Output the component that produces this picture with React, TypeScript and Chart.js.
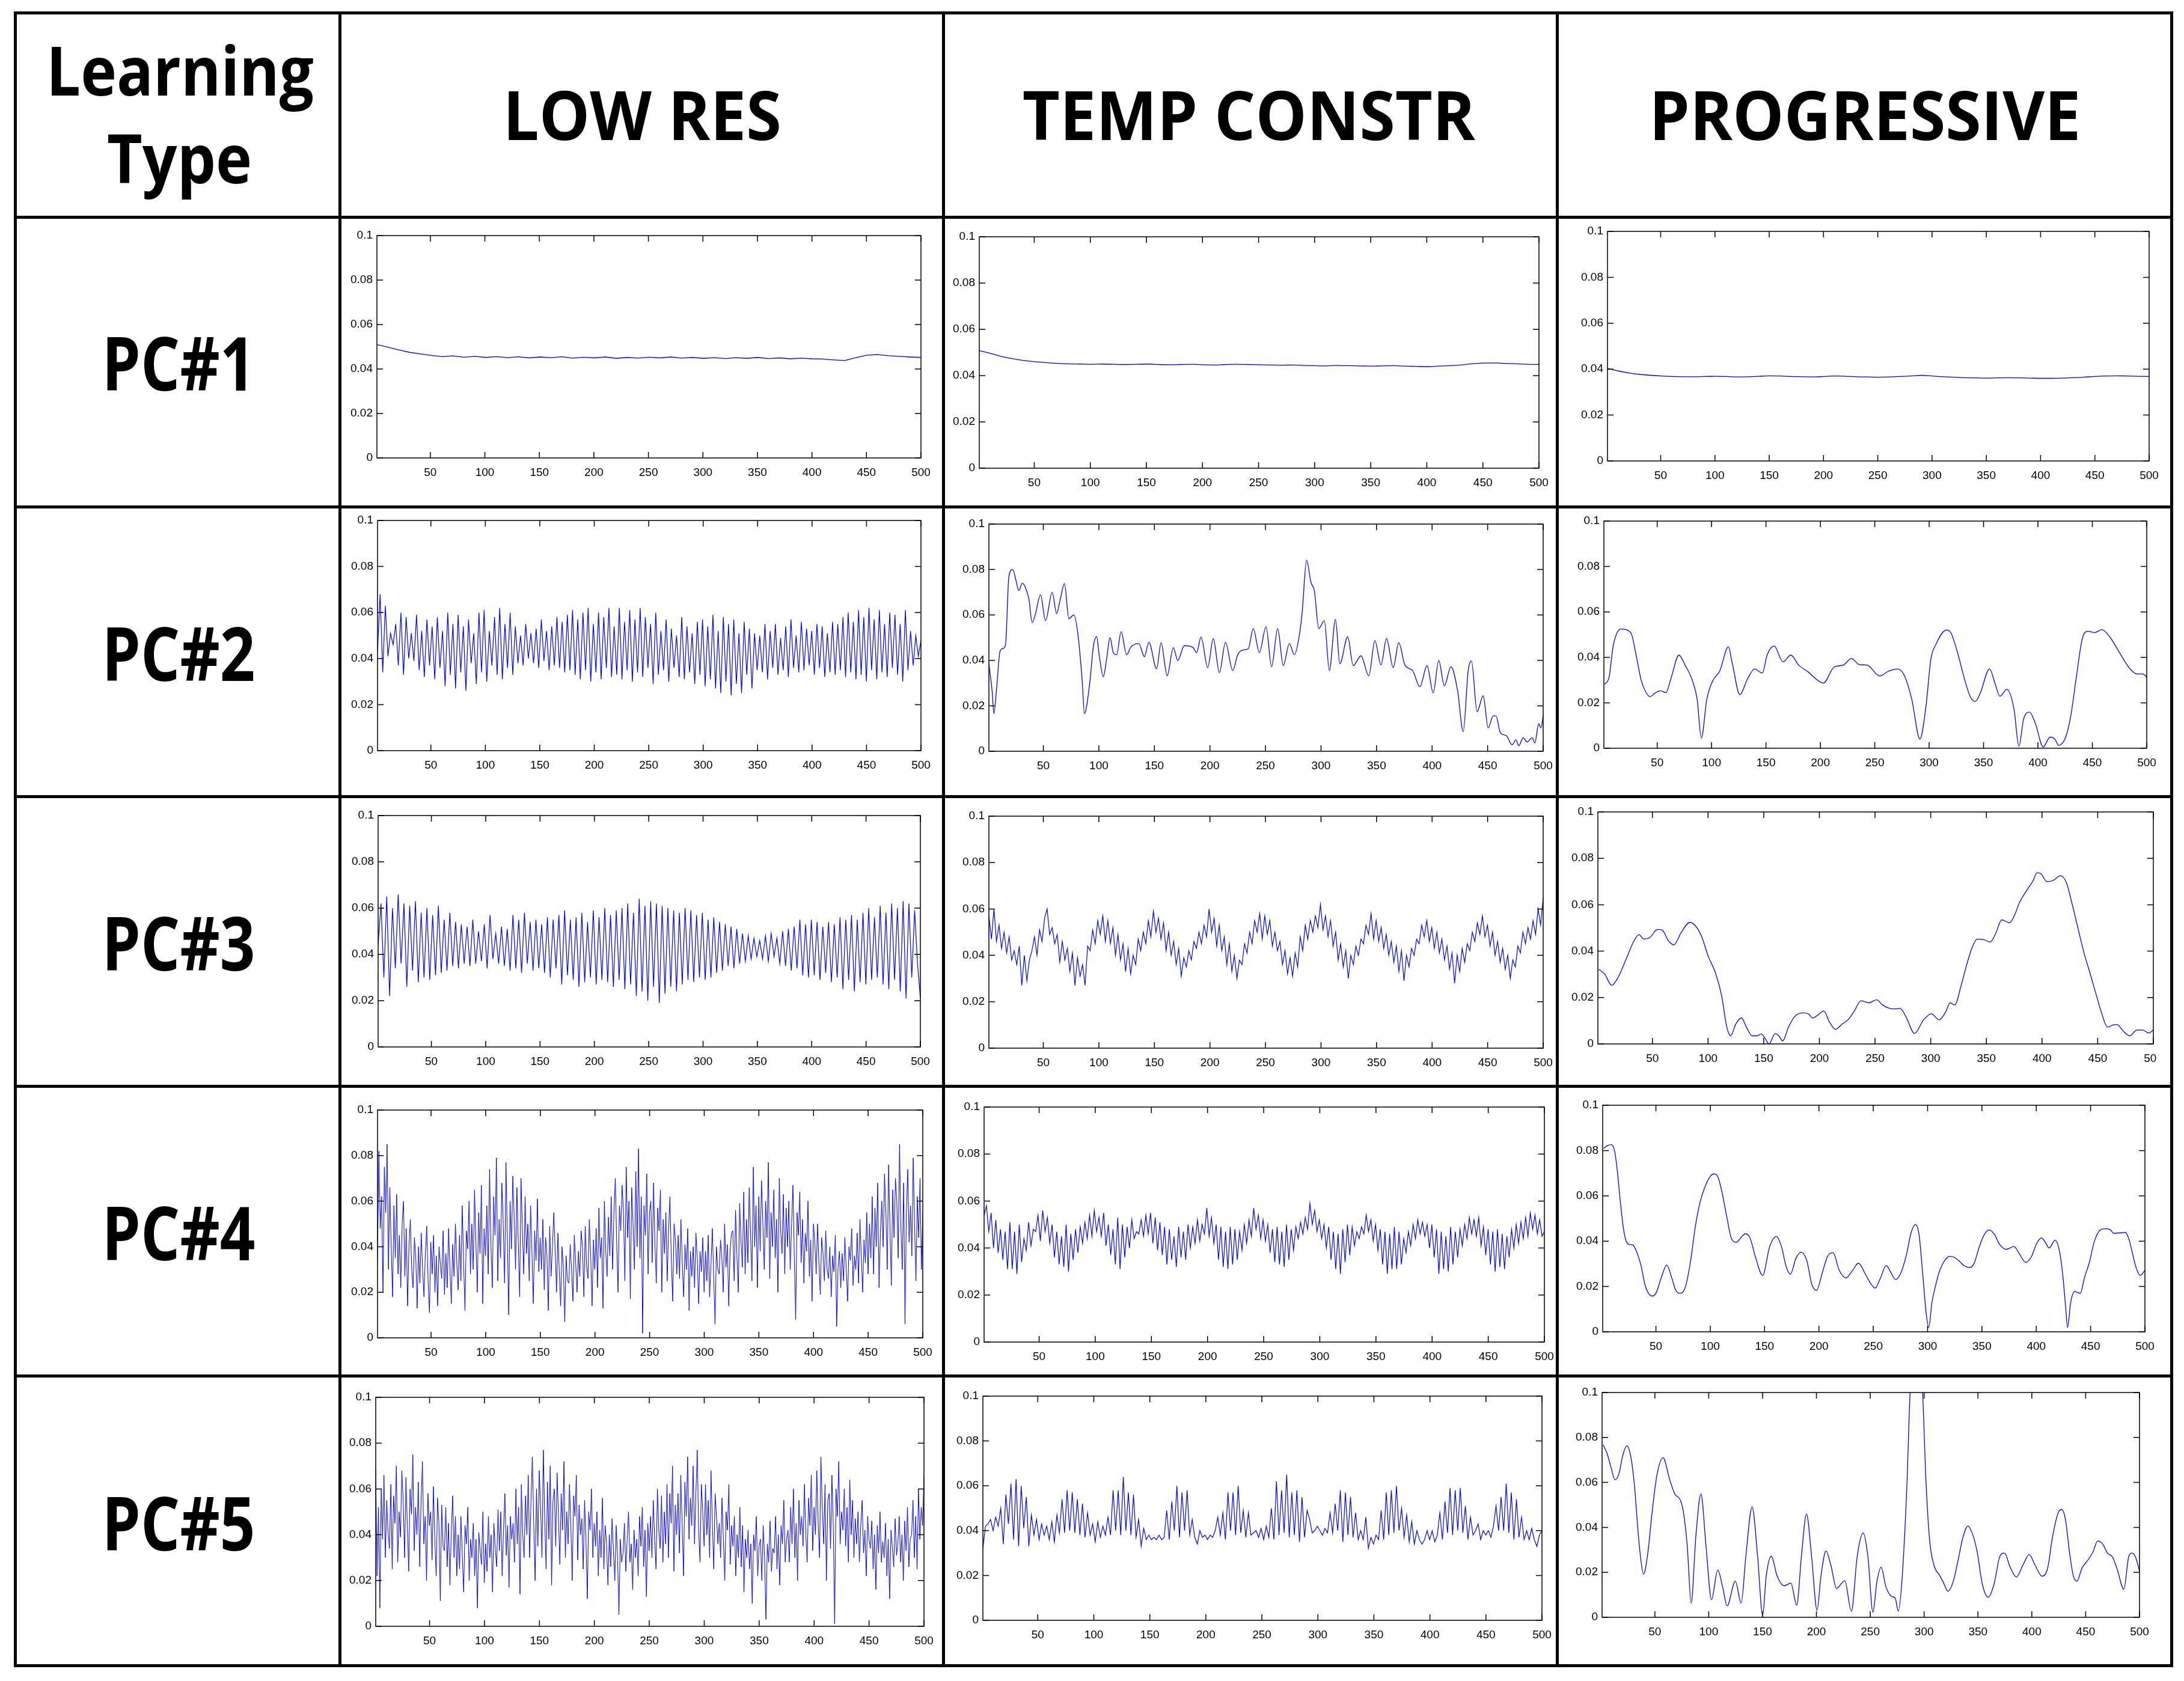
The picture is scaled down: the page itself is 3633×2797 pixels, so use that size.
import React, { useEffect, useRef } from 'react';
import { Chart, registerables } from 'chart.js';

Chart.register(...registerables);

// ---------------- axis / label data ----------------
const X_TICKS = [50, 100, 150, 200, 250, 300, 350, 400, 450, 500];
const Y_TICKS = [0, 0.02, 0.04, 0.06, 0.08, 0.1];
const Y_TICK_LABELS = ['0', '0.02', '0.04', '0.06', '0.08', '0.1'];
const X_MIN = 1;
const X_MAX = 500;
const CORNER_TITLE = ['Learning', 'Type'];
const COLUMN_TITLES = ['LOW RES', 'TEMP CONSTR', 'PROGRESSIVE'];
const ROW_TITLES = ['PC#1', 'PC#2', 'PC#3', 'PC#4', 'PC#5'];

// ---------------- series values (in units of 0.001) ----------------
// evenly sampled series (sample i sits at x = 1 + i*499/(n-1))
const lowResPc1 = [51,49.8,48.6,47.5,46.8,46.1,45.6,45.9,45.3,45.7,45.2,45.6,45.1,45.5,45,45.4,45.1,45.5,44.9,45.3,45,45.4,44.8,45.2,44.9,45.3,45,45.4,44.9,45.2,44.8,45.1,44.7,45.1,44.8,45.2,44.7,45,44.6,44.9,44.6,44.5,44.1,43.8,45.1,46.2,46.5,46,45.7,45.4,45.2];
const tempPc1 = [50.8,49.6,48.3,47.3,46.5,46,45.6,45.3,45.1,45,44.9,45,44.9,44.8,44.9,45,44.8,44.7,44.8,44.9,44.7,44.6,44.8,44.9,44.8,44.7,44.6,44.5,44.6,44.4,44.3,44.2,44.4,44.3,44.2,44.1,44.2,44.3,44.1,44,43.9,44.1,44.3,44.6,45.1,45.4,45.5,45.3,45.1,44.9,44.8];
const progPc1 = [40.3,39.2,38.3,37.7,37.3,37,36.8,36.7,36.7,36.8,36.9,36.8,36.6,36.7,36.9,37.1,37,36.8,36.7,36.6,36.8,37,36.9,36.7,36.6,36.5,36.6,36.8,37,37.3,37,36.7,36.5,36.3,36.2,36.1,36.2,36.3,36.2,36.1,36,36,36.1,36.3,36.5,36.8,37,37.1,37,36.9,36.8];

const lowResPc2 = [
43,68,34,63,41,51,46,55,37,60, 33,58,40,51,39,59,35,52,32,57,
37,54,31,58,36,52,28,60,33,55, 27,59,34,54,26,57,38,51,29,60,
34,61,30,52,37,58,33,62,31,55, 36,60,33,54,38,50,37,55,40,51,
38,53,36,57,39,52,35,54,37,58, 36,56,34,59,35,61,33,57,31,60,
35,62,30,55,34,60,31,58,36,62, 32,54,33,62,31,56,35,61,30,57,
34,62,32,58,36,55,29,60,33,52, 35,57,30,53,36,50,32,58,31,54,
34,51,29,56,33,57,28,54,31,59, 27,52,25,58,30,55,24,57,29,51,
25,56,33,53,27,51,35,50,34,55, 31,52,36,55,33,49,35,54,32,57,
36,50,34,56,35,53,37,52,33,55, 36,54,32,51,34,56,33,55,35,58,
32,60,34,56,31,61,33,58,30,62, 35,57,31,61,34,55,32,60,36,59,
33,55,30,61,35,52,37,50,41,48];

const lowResPc3 = [
44,62,30,65,22,60,34,66,36,62, 26,61,33,63,28,58,30,60,29,57,
31,61,32,55,33,58,35,54,34,53, 36,52,35,55,36,50,37,53,34,57,
38,49,36,52,35,51,33,57,34,55, 32,58,36,54,33,55,34,53,32,56,
30,55,34,57,27,59,31,55,29,56, 26,58,28,54,30,59,27,56,29,60,
28,57,26,59,29,60,25,62,27,58, 22,64,24,61,20,63,26,62,19,61,
23,60,26,59,24,58,27,60,29,59, 28,57,30,58,29,55,30,56,32,54,
33,53,35,52,34,51,36,49,37,48, 38,47,39,46,38,48,37,49,39,47,
36,50,35,51,33,52,34,55,31,53, 30,55,31,54,29,52,32,54,28,53,
30,56,25,55,29,57,24,55,28,58, 27,60,29,56,30,61,27,58,25,62,
29,60,24,63,21,62,30,59,36,21];

const lowResPc4 = [
35,82,48,62,20,75,55,85,30,66, 40,18,58,35,63,28,45,22,50,60,
27,48,14,40,52,30,22,44,35,13, 40,24,46,30,18,37,49,25,11,42,
28,45,20,36,14,40,32,26,47,19, 37,22,48,30,15,41,27,50,33,21,
45,25,58,33,12,47,39,60,28,50, 30,65,42,20,55,37,67,15,48,36,
58,28,74,40,22,62,45,79,25,52, 35,68,50,24,77,44,10,60,39,71,
53,30,66,42,18,70,48,28,62,37, 50,25,58,38,15,47,34,61,29,44,
30,52,21,44,36,12,49,27,40,55, 38,20,46,29,14,40,31,7,36,25,
24,41,30,16,45,33,20,38,27,47, 40,18,49,31,26,52,36,14,43,30,
48,22,57,35,44,13,60,38,27,53, 36,62,30,55,70,42,20,58,47,67,
55,25,75,44,60,17,66,50,30,73, 40,83,35,62,2,58,45,72,28,55,
60,33,68,41,24,57,47,65,20,52, 37,55,25,48,62,34,16,50,43,28,
45,26,52,33,18,41,30,48,12,38, 27,40,22,46,35,15,38,29,44,20,
38,25,45,18,32,48,27,6,40,30, 28,43,35,20,50,31,41,14,38,46,
47,25,56,36,20,59,42,31,64,28, 52,33,66,45,25,75,40,58,22,62,
38,69,50,30,60,44,77,26,55,40, 65,35,52,20,70,47,37,63,28,57,
40,60,30,50,67,36,8,55,45,64, 33,52,24,46,38,60,27,43,16,50,
42,28,50,33,19,44,37,25,47,30, 26,40,18,36,29,45,5,31,38,22,
37,25,44,30,16,40,34,48,23,36, 30,46,24,52,36,20,43,33,55,28,
50,35,62,28,57,40,68,22,46,60, 40,72,55,30,76,48,23,65,44,70,
60,35,85,48,30,68,6,55,74,42, 58,36,79,50,25,62,44,70,30,55];

const lowResPc5 = [
69,22,52,8,60,38,66,30,55,41, 34,62,25,57,45,70,28,50,39,68,
55,30,65,44,24,60,49,75,33,52, 40,63,26,55,72,36,48,20,58,44,
50,29,61,38,22,56,45,11,53,35, 33,52,26,45,18,41,57,30,48,22,
40,25,48,31,15,44,36,52,20,38, 30,45,22,38,8,41,33,27,50,19,
36,24,48,30,40,15,45,34,26,51, 33,50,22,42,58,31,44,17,48,38,
45,28,60,36,52,14,62,40,30,57, 40,66,30,55,74,45,20,60,35,68,
52,30,77,46,25,63,38,70,18,55, 60,35,67,48,27,58,42,72,30,50,
36,62,44,20,57,48,66,29,53,40, 47,25,55,38,12,50,42,60,30,45,
35,50,22,42,30,56,25,44,36,18, 40,26,47,33,20,44,30,5,38,28,
32,45,24,38,50,28,36,16,42,30, 38,22,48,35,52,26,42,13,45,33,
48,30,55,38,25,60,42,34,57,28, 50,36,62,30,58,45,70,24,53,40,
58,32,66,45,22,63,48,74,38,56, 44,70,36,58,77,42,28,62,50,35,
62,40,55,30,68,45,25,58,48,36, 45,30,56,38,20,50,42,62,27,44,
35,48,22,40,30,52,26,44,15,38, 30,42,25,36,10,40,33,48,22,35,
38,20,44,30,3,36,28,46,24,34, 32,48,25,40,18,44,36,55,28,38,
42,28,52,36,60,30,45,20,55,40, 48,35,62,40,28,56,44,66,33,52,
40,68,45,30,74,52,36,62,20,55, 58,34,66,44,1,60,48,72,36,50,
42,60,35,52,28,64,40,55,30,47, 36,50,28,44,55,32,42,22,48,38,
34,46,25,40,16,44,32,50,28,37, 30,45,22,38,12,42,34,26,47,31,
36,48,28,40,20,46,33,52,26,38, 40,55,30,48,25,60,38,52,44,66];

const tempPc3 = [
57,47,60,46,53,43,50,41,48,38, 42,36,44,27,40,29,38,42,48,40,
51,46,56,60,49,52,45,49,37,46, 38,43,33,41,27,39,31,36,27,44,
42,51,45,55,49,57,46,55,45,52, 40,49,38,45,33,43,32,40,36,47,
42,50,45,55,48,59,50,56,47,54, 42,50,40,46,36,43,31,39,35,42,
38,46,43,50,45,53,48,60,50,56, 44,53,42,48,36,45,33,40,30,38,
36,45,41,50,45,55,50,58,47,57, 49,55,44,50,42,46,36,42,32,39,
31,41,35,48,42,53,47,55,50,57, 52,62,51,57,48,55,44,50,38,45,
35,42,30,40,36,44,40,47,45,53, 49,58,47,55,46,52,43,49,40,46,
37,44,33,42,29,40,35,43,40,47, 45,53,48,55,46,52,43,50,41,47,
38,44,34,41,28,40,33,43,37,45, 42,50,46,54,49,57,48,53,44,50,
40,46,37,43,34,40,30,38,35,44, 41,50,45,52,47,55,49,60,53,65];

const tempPc4 = [
54,58,47,55,40,52,38,48,35,47, 31,51,31,47,29,50,34,44,39,51,
41,48,47,54,43,56,47,53,42,50, 36,47,33,45,32,50,30,46,35,48,
38,49,42,51,44,54,45,56,47,53, 45,55,41,50,37,48,33,53,31,50,
36,49,40,52,44,47,46,52,45,54, 46,55,42,53,39,51,37,49,33,48,
35,45,32,49,36,47,35,50,40,49, 42,52,43,50,46,57,45,53,42,50,
35,49,32,47,31,49,33,48,35,47, 39,50,42,52,45,57,48,54,44,52,
43,50,38,48,34,49,33,47,32,50, 35,48,39,49,44,51,46,53,48,59,
50,56,47,52,44,50,40,49,35,47, 31,46,29,48,34,50,37,49,41,47,
44,49,46,54,47,52,43,50,39,48, 33,47,29,46,31,49,31,47,33,44,
38,47,41,50,44,52,46,51,45,50, 40,50,36,48,29,47,31,45,30,49,
33,47,36,48,41,50,44,53,46,52, 45,53,41,49,37,48,33,47,30,48,
32,46,31,45,36,48,40,50,42,51, 44,53,45,55,48,54,46,52,45,47];

const tempPc5 = [
32,42,43,45,40,
46,42,50,34,56,43,61,36,63,33,60,41,55,33,
47,38,45,36,43,38,42,36,
44,35,47,39,54,39,58,40,57,39,54,38,52,37,48,
38,43,35,44,37,42,38,
46,38,58,40,58,38,64,40,57,38,56,37,45,33,
41,36,38,36,37,36,38,36,37,
49,36,53,40,60,37,57,40,58,38,45,
37,34,40,37,38,36,38,37,40,
46,38,48,36,57,40,57,38,60,39,49,37,48,38,
39,40,37,41,36,42,37,
50,36,62,38,58,39,65,37,57,38,58,35,55,37,49,
45,39,40,42,40,38,41,39,
48,39,52,40,58,35,57,38,55,37,48,36,
40,36,46,32,37,34,38,36,
49,36,57,38,58,39,60,40,50,37,47,35,44,34,40,
36,34,36,40,36,40,35,38,
48,36,53,39,59,38,58,40,59,39,51,36,46,38,
40,43,36,40,38,40,37,42,
51,40,55,40,61,39,57,36,54,37,46,
36,40,36,41,36,33,38,40];

// series read at explicit x positions
const tempPc2X = [1,4,5.5,8,11,14,16,19,22.5,25,28,31,33.5,37,40,42.5,47.5,52,58,62,65,69,73,77.5,81,85,87,92,95,98,100.5,104,107,110,113,116,120,125,129,136,141,145,152,156,161.5,167,171,177,185,188,192,198,203,208.5,214,220.5,225,231,234.5,239,244.5,250.5,255.5,261,266,271.5,276,280,283,287,291,294,298,303,307.5,313,317,324,329,336,343,348.5,354,359,365,370,375.5,382.5,389,395.5,401,406,411,417,423,428,432.5,435.5,440.5,446,450.5,455,457.5,461.5,467,472,475.5,478,482,485.5,490,492.5,496,498,500];
const tempPc2Y = [38.5,26,16.5,28,44,45.3,47,77,80,76,70.7,74,72.5,67,56.6,59.7,68.8,57.5,70,60.6,66.3,73.8,58.4,60,52,31,16.5,31,46,50.4,41.6,32.8,40.7,50,43.4,42.5,52.6,42.5,46,47.4,41.6,48,36.3,47.8,33.2,45.6,40,46.5,45.6,43.4,50.3,36.8,49.6,34.6,48,35.5,42.5,44.7,45.1,54,43.4,54.8,37.2,54,37.7,47.4,42.5,49.6,61,84.1,74.2,70.7,54,57.5,35.5,58,38.5,50.4,37.7,42,33.2,48.7,38,49.6,36.8,47.8,38,35.5,28.4,37.7,25.7,40,28.8,37.2,26.6,8.6,35.5,39.7,17.4,24.4,10.3,15.6,15.6,8.1,6.8,2.8,5,2.4,5.9,4.1,5.9,3.7,12.1,10.3,15.6];

const progPc2X = [1.8,5.8,9.4,13,16.6,23,26.6,31,35,39,43.5,48,53,58,63,70,76,81,86.7,90.6,95.6,101,107.5,115.4,119,126,133,139.5,146.7,151,157.5,165.7,172.9,180,189,196,202.8,212.5,221,228.7,235.8,243,254.5,263,271,277,284,291.5,297,301.6,306,316,320,325.7,333,338,342.6,347,355.5,361,365,371.4,378,382.5,386.8,392.2,397.6,404.8,411.2,415.6,419,425.5,430,435.3,440.7,446,452,458.7,466,473,479.6,485.7,491,496.4,500];
const progPc2Y = [28.2,31.3,44.6,50.7,52.5,51.9,49.9,40.2,30.5,25.2,22.7,24.3,25.3,24.5,31.3,41,36.2,31.5,21.6,4.4,21.6,29.6,34,44.6,37.5,23.6,30.5,34.9,33.1,41,45,38,41,36.6,33.5,30.5,28.7,35.7,36.6,39.5,36.8,36.6,31.8,34,34.9,32.2,21.6,4,18.1,39.3,45.5,52.1,50.8,42.8,29.6,22.5,20.6,24.3,34.9,27.8,22.9,25.9,17.2,0.9,12.8,15.9,11,0.6,4.9,4,1.3,4.9,13.7,31.3,48.1,51.5,50.9,52.2,49,43.7,38.4,34.4,32.7,32.7,31.3];

const progPc3X = [1.8,7,13.4,19.4,26.5,33.5,38,42,47.5,54.6,59,64.4,69.3,75.7,83.7,88.7,94.3,100.3,106.6,112,116.8,120.3,124.9,130,134.4,139.6,144,147.7,151,154.7,160.4,163.5,167,172.3,177.6,184.6,190,194,198.7,204,209,214.5,220.5,225.7,231.4,237.4,244.4,251.4,256.7,262,267,272.5,277.8,285.5,293.6,300.6,307.6,313,317.5,321.7,327,332.3,337.5,341.7,348,353.3,357.9,363.9,370.9,375.5,379.7,386.7,392,395.5,399,404.3,409.6,416.6,421.9,427.2,432.4,437.7,443,448.2,453.5,458.8,464,467.5,472.8,478.8,485.2,490.4,495.7,500];
const progPc3Y = [32.2,30.2,25.3,28.9,36.7,44.5,47.1,45.3,45.8,49.4,49,44.5,42.7,47.9,52.4,50.9,46.2,37.6,30.7,21.2,7.3,3.5,8.6,11.2,7.3,3.5,3.5,4.3,2.6,0,4.5,3.5,1.3,7.3,11.7,13.4,13,11.2,12.5,14.2,9.5,6.3,8.6,10.4,14.2,18.6,17.7,19,16.8,15.5,15.1,15.3,11.7,4.5,10.4,13,10.4,13.4,17.7,16.8,24.6,34.1,41.9,45.2,44.9,43.9,47.1,53.5,52.2,55.7,60.9,66.5,70.4,73.8,73.4,70,70.4,72.5,69.5,60,49.7,39.3,30.7,22,13.4,7.3,8.2,8.4,5.6,3.5,6,6,4.7,6];

const progPc4X = [2,5.4,9,11.9,14.4,17.3,19.8,22.3,25.2,28.8,32.4,36,40.3,43.9,47.1,50.4,54.7,60,64.7,68.3,72.7,77.3,81.7,86.3,90.6,95.3,100,103.2,107.2,110.8,115.1,119.4,124.1,128.4,132.4,136.7,141.4,148.2,154.7,160.8,165.5,169.8,173.7,178.8,183.5,188.8,193.5,197.8,203.2,207.9,213,218.7,224.8,231,236.3,242.8,248.2,251.8,256.5,261.9,266.2,270.5,275.2,280.6,284.9,288.8,292.1,295.7,298.6,301.1,304,307.6,311.2,315.8,320.1,324.5,330.2,334.5,338.8,342.8,347.1,351.8,356.8,361.5,366.2,372.3,379.5,384.2,390.3,395.7,400,404.7,408.3,411.9,417.3,421.6,424.5,427,428.8,431.7,435.3,438.1,440.6,444.2,448.9,453.2,458.6,464,468.3,471.2,478.4,482,485.6,489.2,492.1,495.7,500];
const progPc4Y = [81,82.2,82.6,80,71.3,57.2,46.6,40.4,38.6,38.3,35.1,29.8,20.1,16.5,15.8,17.4,23.6,29.5,23.6,18.3,17,20.1,30.7,46.6,57.2,64.2,68.6,69.7,68.2,61.6,51,41.3,39.5,41.7,43.3,41.3,33.3,24.9,37.7,42.1,37.7,28.9,25.4,32.4,35.2,31.5,20.9,18.3,26.2,33.3,34.9,27.1,23.8,27.1,30.3,25.4,20.9,19.3,23.6,29.3,26.2,23.1,25.8,34.2,43.9,47.3,43,24.5,8.6,1.9,13,20.9,27.1,31.5,33.3,32.9,30.7,28.9,28.4,30.2,36.8,42.6,45,43,38.6,36.4,37.7,34.6,30.7,33.3,38.6,41.5,39.5,37,40.4,35.1,24.5,11.2,1.9,13,17.8,17.4,17,23.6,30.7,39.5,44.8,45.5,45,43.5,43.7,43.9,40.4,33.3,28,24.9,27.1];

const progPc5X = [2,5.7,9.4,13,16.6,20.2,23.9,27.5,31.1,34,36.6,39.5,43.1,47.5,51.8,57.6,63.8,68.5,73.6,76.5,80.1,83.7,88.1,92.8,97.5,102.6,108.4,112.8,117.1,124.7,130.2,134.5,140.3,145.4,150.1,153.4,158.1,163.6,170.1,176.3,181.7,186.1,190.8,195.5,200.6,204.2,208.9,213.6,218.7,226.3,232.5,237.9,243.4,247.8,252.5,256.1,260.1,264.4,269.5,273.2,276,279.7,284,287,292.5,298.6,301.5,305.1,309.4,314.2,317.8,322.1,326.8,331.2,335.9,340.6,345,349.3,354.1,359.5,364.9,370.4,374.7,379.5,385.6,392.2,397.6,403,409.6,414.7,419.4,424.8,427.7,431.3,435,438.6,441.9,446.6,452,456.7,461.1,465.8,470.2,474.9,479.3,485.4,490.1,493.1,496.7,500];
const progPc5Y = [76.8,72.8,66.5,61.2,63.8,71.9,76.3,71.9,58.5,40.6,27.2,19.2,27.2,46.9,62.9,71,61.2,54.9,52.2,46.9,31.7,6.3,36.2,54.9,31.7,7.8,21,13.8,5.1,16.1,6.3,27.2,49.1,27.2,0.9,18.3,27.2,18.3,14,15.2,5.4,27.2,46,27.2,3.1,18.3,29.5,22.8,12.9,16.3,2.7,27.2,37.5,27.2,2.2,15.6,22.3,13.8,9.4,8.5,2.7,18.3,58.5,100,125,100,63,34.4,22.8,18.8,15.6,11.6,15.6,24.6,35.3,40.6,37,29,14.7,8.9,14.7,27.2,28.6,22.8,17.9,23.7,27.9,23.2,18.3,21.9,36.2,46.9,48,43.3,29,18.3,16.1,21.9,25.4,29,33.9,32.6,28.6,26.8,21.4,12.5,27.2,28.6,26.3,20.5];

// ---------------- layout (page pixels) ----------------
const PAGE_W = 3633;
const PAGE_H = 2797;
const COL_LINES = [25, 565, 1569, 2590, 3612];
const ROW_LINES = [21, 361, 843, 1325, 1807, 2289, 2771];
const GRID_LW = 5;
const AX_W = 80;
const AX_H = 45;
const PAD_T = 20;
const PAD_R = 30;
const TICK_LEN = 10;
const LINE_BLUE = '#0000ff';
const HEADER_FONT = "'Open Sans', 'DejaVu Sans', sans-serif";
const TICK_FONT = "'Liberation Sans', Arial, sans-serif";

type PanelDef = { ys: number[]; xs?: number[]; smooth: boolean; width: number; plot: number[]; clipRight?: number };

const PANELS: PanelDef[] = [
  { ys: lowResPc1, smooth: false, width: 1.3, plot: [627, 392, 1532, 762] },
  { ys: tempPc1, smooth: true, width: 1.3, plot: [1629, 394, 2560, 779] },
  { ys: progPc1, smooth: true, width: 1.3, plot: [2674, 385, 3575, 767] },
  { ys: lowResPc2, smooth: false, width: 1.2, plot: [628, 866, 1532, 1249] },
  { ys: tempPc2Y, xs: tempPc2X, smooth: true, width: 1.3, plot: [1645, 872, 2567, 1250] },
  { ys: progPc2Y, xs: progPc2X, smooth: true, width: 1.3, plot: [2668, 867, 3571, 1245] },
  { ys: lowResPc3, smooth: false, width: 1.2, plot: [629, 1357, 1531, 1742] },
  { ys: tempPc3, smooth: false, width: 1.2, plot: [1645, 1358, 2567, 1744] },
  { ys: progPc3Y, xs: progPc3X, smooth: true, width: 1.3, plot: [2658, 1351, 3582, 1737], clipRight: 3588 },
  { ys: lowResPc4, smooth: false, width: 1, plot: [628, 1847, 1535, 2226] },
  { ys: tempPc4, smooth: false, width: 1.2, plot: [1637, 1842, 2569, 2233] },
  { ys: progPc4Y, xs: progPc4X, smooth: true, width: 1.3, plot: [2666, 1839, 3568, 2216] },
  { ys: lowResPc5, smooth: false, width: 1, plot: [625, 2325, 1537, 2706] },
  { ys: tempPc5, smooth: false, width: 1.2, plot: [1635, 2323, 2565, 2696] },
  { ys: progPc5Y, xs: progPc5X, smooth: true, width: 1.3, plot: [2665, 2317, 3559, 2691] },
];

function toPoints(ys: number[], xs?: number[]) {
  const n = ys.length;
  return ys.map((v, i) => ({
    x: xs ? xs[i] : X_MIN + (i * (X_MAX - X_MIN)) / (n - 1),
    y: v * 0.001,
  }));
}

const framePlugin = {
  id: 'matlabFrame',
  afterDraw(chart: any) {
    const { ctx, chartArea: a, scales } = chart;
    ctx.save();
    ctx.strokeStyle = '#000';
    ctx.lineWidth = 1.5;
    ctx.strokeRect(a.left, a.top, a.right - a.left, a.bottom - a.top);
    ctx.beginPath();
    for (const v of X_TICKS) {
      const px = scales.x.getPixelForValue(v);
      ctx.moveTo(px, a.bottom);
      ctx.lineTo(px, a.bottom - TICK_LEN);
      ctx.moveTo(px, a.top);
      ctx.lineTo(px, a.top + TICK_LEN);
    }
    for (const v of Y_TICKS) {
      const py = scales.y.getPixelForValue(v);
      ctx.moveTo(a.left, py);
      ctx.lineTo(a.left + TICK_LEN, py);
      ctx.moveTo(a.right, py);
      ctx.lineTo(a.right - TICK_LEN, py);
    }
    ctx.stroke();
    ctx.restore();
  },
};

function Panel({ def }: { def: PanelDef }) {
  const ref = useRef<HTMLCanvasElement>(null);
  const [l, t, r, b] = def.plot;
  const w = r - l + AX_W + PAD_R;
  const h = b - t + PAD_T + AX_H;
  useEffect(() => {
    const chart = new Chart(ref.current as HTMLCanvasElement, {
      type: 'line',
      data: {
        datasets: [
          {
            data: toPoints(def.ys, def.xs),
            borderColor: LINE_BLUE,
            borderWidth: def.width,
            pointRadius: 0,
            fill: false,
            tension: def.smooth ? 0.4 : 0,
            cubicInterpolationMode: def.smooth ? 'monotone' : 'default',
          },
        ],
      },
      options: {
        animation: false,
        responsive: false,
        maintainAspectRatio: false,
        devicePixelRatio: 1,
        events: [],
        layout: { padding: { left: 0, top: PAD_T, right: PAD_R, bottom: 0 } },
        plugins: { legend: { display: false }, tooltip: { enabled: false }, title: { display: false } },
        scales: {
          x: {
            type: 'linear',
            min: X_MIN,
            max: X_MAX,
            grid: { display: false, drawTicks: false },
            border: { display: false },
            ticks: {
              autoSkip: false,
              maxRotation: 0,
              minRotation: 0,
              padding: 13,
              color: '#000',
              font: { family: TICK_FONT, size: 19 },
              callback: (v: any) => String(v),
            },
            afterBuildTicks: (axis: any) => {
              axis.ticks = X_TICKS.map((v) => ({ value: v }));
            },
            afterFit: (axis: any) => {
              axis.height = AX_H;
            },
          },
          y: {
            type: 'linear',
            min: 0,
            max: 0.1,
            grid: { display: false, drawTicks: false },
            border: { display: false },
            ticks: {
              padding: 7,
              color: '#000',
              font: { family: TICK_FONT, size: 19 },
              callback: (_v: any, i: number) => Y_TICK_LABELS[i],
            },
            afterBuildTicks: (axis: any) => {
              axis.ticks = Y_TICKS.map((v) => ({ value: v }));
            },
            afterFit: (axis: any) => {
              axis.width = AX_W;
            },
          },
        },
      },
      plugins: [framePlugin],
    } as any);
    return () => chart.destroy();
  }, [def]);
  const left = l - AX_W;
  const top = t - PAD_T;
  const boxW = def.clipRight ? def.clipRight - left : w;
  return (
    <div style={{ position: 'absolute', left, top, width: boxW, height: h, overflow: 'hidden' }}>
      <canvas ref={ref} width={w} height={h} style={{ display: 'block', width: w, height: h }} />
    </div>
  );
}

let measureCtx: CanvasRenderingContext2D | null = null;
function textWidth(text: string, font: string) {
  if (!measureCtx) measureCtx = document.createElement('canvas').getContext('2d');
  if (!measureCtx) return text.length * 50;
  measureCtx.font = font;
  return measureCtx.measureText(text).width;
}

function Label({ text, cx, baseline, cap, width }: { text: string; cx: number; baseline: number; cap: number; width: number }) {
  const fs = cap / 0.714;
  const natural = textWidth(text, `700 ${fs}px ${HEADER_FONT}`) || width;
  const sx = width / natural;
  return (
    <div
      style={{
        position: 'absolute',
        left: cx - natural / 2,
        top: baseline - 0.888 * fs,
        width: natural,
        fontFamily: HEADER_FONT,
        fontWeight: 700,
        fontSize: fs,
        lineHeight: `${fs}px`,
        whiteSpace: 'nowrap',
        textAlign: 'center',
        color: '#000',
        transform: `scaleX(${sx})`,
        transformOrigin: 'center',
      }}
    >
      {text}
    </div>
  );
}

export default function App() {
  const lines: any[] = [];
  const top = ROW_LINES[0] - GRID_LW / 2;
  const bottom = ROW_LINES[ROW_LINES.length - 1] + GRID_LW / 2;
  const leftEdge = COL_LINES[0] - GRID_LW / 2;
  const rightEdge = COL_LINES[COL_LINES.length - 1] + GRID_LW / 2;
  COL_LINES.forEach((x, i) =>
    lines.push(
      <div key={'c' + i} style={{ position: 'absolute', left: x - GRID_LW / 2, top, width: GRID_LW, height: bottom - top, background: '#000' }} />
    )
  );
  ROW_LINES.forEach((y, i) =>
    lines.push(
      <div key={'r' + i} style={{ position: 'absolute', left: leftEdge, top: y - GRID_LW / 2, width: rightEdge - leftEdge, height: GRID_LW, background: '#000' }} />
    )
  );

  const colCenters = [1068, 2077, 3102];
  const colWidths = [463, 753, 718];
  const rowBaselines = [650, 1133, 1615, 2097, 2580];

  return (
    <div style={{ position: 'absolute', left: 0, top: 0, width: PAGE_W, height: PAGE_H, background: '#fff', overflow: 'hidden' }}>
      {PANELS.map((p, i) => (
        <Panel key={i} def={p} />
      ))}
      {lines}
      <Label text={CORNER_TITLE[0]} cx={299} baseline={160} cap={81} width={445} />
      <Label text={CORNER_TITLE[1]} cx={299} baseline={306} cap={81} width={241} />
      {COLUMN_TITLES.map((t, i) => (
        <Label key={t} text={t} cx={colCenters[i]} baseline={234} cap={81} width={colWidths[i]} />
      ))}
      {ROW_TITLES.map((t, i) => (
        <Label key={t} text={t} cx={297} baseline={rowBaselines[i]} cap={88} width={255} />
      ))}
    </div>
  );
}
